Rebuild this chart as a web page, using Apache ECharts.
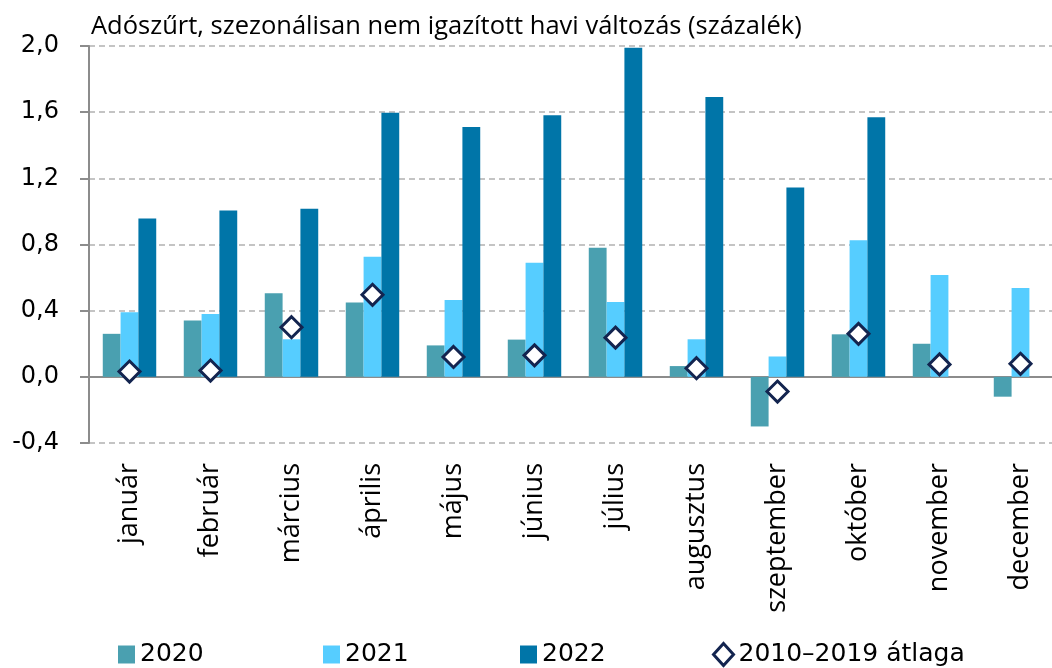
<!DOCTYPE html>
<html>
<head>
<meta charset="utf-8">
<title>Adószűrt havi változás</title>
<script src="https://cdn.jsdelivr.net/npm/echarts@6/dist/echarts.min.js"></script>
<style>
  html, body { margin: 0; padding: 0; background: #fff; }
  .chart { width: 1052px; height: 668px; }
</style>
</head>
<body>
<div class="chart"></div>
<script>
// hónapok
const months = ["január", "február", "március", "április", "május", "június",
  "július", "augusztus", "szeptember", "október", "november", "december"];
// havi változás, százalék
const y2020 = [0.26, 0.34, 0.505, 0.45, 0.19, 0.225, 0.78, 0.065, -0.30, 0.257, 0.20, -0.12];
const y2021 = [0.39, 0.38, 0.227, 0.726, 0.464, 0.689, 0.452, 0.227, 0.123, 0.825, 0.616, 0.537];
const y2022 = [0.957, 1.006, 1.016, 1.596, 1.511, 1.581, 1.989, 1.691, 1.145, 1.569, null, null];
const avg1019 = [0.032, 0.038, 0.30, 0.496, 0.12, 0.13, 0.237, 0.052, -0.089, 0.26, 0.075, 0.079];
// y tengely
const yMin = -0.4, yMax = 2.0, yStep = 0.4;

(function () {
  const font = "'Open Sans', 'Noto Sans', sans-serif";
  const wide = "'DejaVu Sans', sans-serif";
  const myChart = echarts.init(document.querySelector(".chart"));

  const legendText = { fontSize: 25, color: "#000", fontFamily: wide };
  function legendAt(left, item, w, h) {
    return {
      top: 637,
      left: left,
      itemWidth: w,
      itemHeight: h,
      textStyle: legendText,
      data: [item]
    };
  }

  const option = {
    animation: false,
    textStyle: { fontFamily: font },
    title: {
      text: "Adószűrt, szezonálisan nem igazított havi változás (százalék)",
      left: 86,
      top: 9,
      textStyle: { fontSize: 25.5, fontWeight: "normal", color: "#000", fontFamily: font }
    },
    legend: [
      legendAt(113, { name: "2020", icon: "rect" }, 17, 18),
      legendAt(318, { name: "2021", icon: "rect" }, 17, 18),
      legendAt(515, { name: "2022", icon: "rect" }, 17, 18),
      legendAt(707, {
        name: "2010–2019 átlaga",
        icon: "diamond",
        itemStyle: { color: "#fff", borderColor: "#13244f", borderWidth: 3 }
      }, 20, 22)
    ],
    grid: {
      left: 89,
      top: 46,
      width: 972,
      bottom: 225,
      outerBoundsMode: "none"
    },
    xAxis: [
      {
        type: "category",
        data: months,
        position: "bottom",
        axisLine: { show: false, onZero: false },
        axisTick: { show: false },
        axisLabel: { rotate: 90, margin: 20, fontSize: 27, color: "#000", fontFamily: font }
      },
      {
        // zero line with ticks
        type: "category",
        data: months,
        position: "top",
        axisLine: { onZero: true, lineStyle: { color: "#8c8c8c", width: 2 } },
        axisTick: { inside: true, length: 10, lineStyle: { color: "#8c8c8c", width: 2 } },
        axisLabel: { show: false }
      }
    ],
    yAxis: {
      type: "value",
      min: yMin,
      max: yMax,
      interval: yStep,
      axisLine: { show: true, lineStyle: { color: "#8c8c8c", width: 2 } },
      axisTick: { show: true, length: 9, lineStyle: { color: "#8c8c8c", width: 2 } },
      axisLabel: {
        margin: 30,
        fontSize: 24,
        color: "#000",
        fontFamily: wide,
        formatter: function (v) { return v.toFixed(1).replace(".", ","); }
      },
      splitLine: { lineStyle: { color: "#c4c4c4", width: 2, type: [6, 4] } }
    },
    series: [
      {
        name: "2020",
        type: "bar",
        data: y2020,
        barGap: "0%",
        barCategoryGap: "34%",
        itemStyle: { color: "#4aa0b0" }
      },
      {
        name: "2021",
        type: "bar",
        data: y2021,
        itemStyle: { color: "#56cdff" }
      },
      {
        name: "2022",
        type: "bar",
        data: y2022,
        itemStyle: { color: "#0075a8" }
      },
      {
        name: "2010–2019 átlaga",
        type: "scatter",
        data: avg1019,
        symbol: "diamond",
        symbolSize: 21,
        z: 5,
        itemStyle: { color: "#fff", borderColor: "#13244f", borderWidth: 3, opacity: 1 }
      }
    ]
  };

  myChart.setOption(option);

  window.addEventListener("resize", function () {
    myChart.resize();
  });
})();
</script>
</body>
</html>
